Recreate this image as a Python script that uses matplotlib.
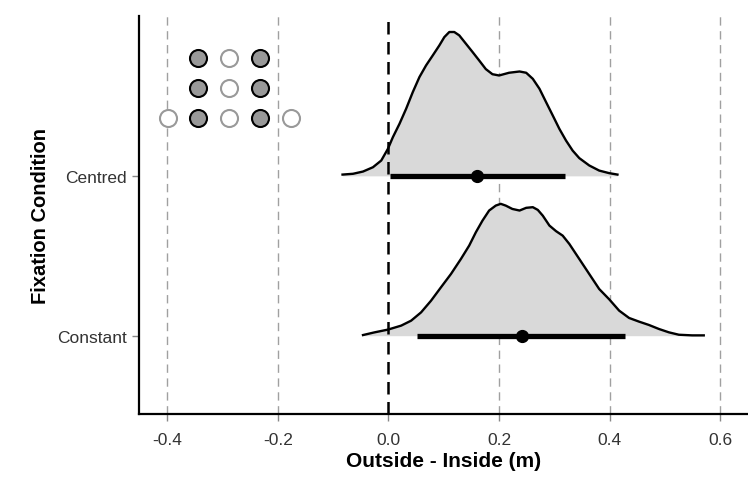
import numpy as np
import matplotlib.pyplot as plt

plt.rcParams['font.family'] = ['Liberation Sans', 'DejaVu Sans']

# Conditions (y positions of the ridges)
conditions = ['Constant', 'Centred']
cond_pos = [1, 2]

# Density outlines (x in m, height in ridge units)
centred_x = [-0.083, -0.064, -0.046, -0.028, -0.013, -0.001, 0.008, 0.020, 0.032, 0.044,
             0.056, 0.068, 0.080, 0.092, 0.101, 0.110, 0.119, 0.128, 0.140, 0.152,
             0.164, 0.176, 0.188, 0.200, 0.218, 0.237, 0.249, 0.261, 0.273, 0.285,
             0.297, 0.309, 0.321, 0.333, 0.345, 0.363, 0.381, 0.399, 0.414]
centred_h = [0.008, 0.013, 0.027, 0.054, 0.096, 0.169, 0.242, 0.326, 0.420, 0.524,
             0.618, 0.691, 0.753, 0.816, 0.868, 0.900, 0.900, 0.879, 0.827, 0.775,
             0.722, 0.668, 0.636, 0.628, 0.645, 0.653, 0.645, 0.607, 0.545, 0.461,
             0.378, 0.294, 0.221, 0.158, 0.111, 0.065, 0.033, 0.017, 0.008]

constant_x = [-0.046, -0.025, -0.001, 0.023, 0.041, 0.059, 0.077, 0.095, 0.113, 0.131,
              0.146, 0.158, 0.170, 0.182, 0.194, 0.203, 0.212, 0.224, 0.237, 0.249,
              0.261, 0.270, 0.279, 0.291, 0.303, 0.315, 0.327, 0.345, 0.363, 0.381,
              0.399, 0.417, 0.435, 0.453, 0.471, 0.489, 0.507, 0.525, 0.549, 0.570]
constant_h = [0.004, 0.021, 0.038, 0.063, 0.094, 0.146, 0.219, 0.303, 0.386, 0.480,
              0.564, 0.647, 0.720, 0.783, 0.814, 0.825, 0.814, 0.793, 0.783, 0.800,
              0.804, 0.787, 0.751, 0.689, 0.654, 0.626, 0.574, 0.480, 0.386, 0.292,
              0.228, 0.157, 0.111, 0.088, 0.067, 0.042, 0.021, 0.006, 0.002, 0.002]

# Point estimates and intervals
centred_est, centred_lo, centred_hi = 0.160, 0.002, 0.320
constant_est, constant_lo, constant_hi = 0.241, 0.051, 0.427

# Fixation dot schematic
filled_x = [-0.344, -0.233, -0.344, -0.233, -0.344, -0.233]
filled_y = [2.736, 2.736, 2.552, 2.552, 2.365, 2.365]
open_x = [-0.288, -0.288, -0.288, -0.399, -0.177]
open_y = [2.736, 2.552, 2.365, 2.365, 2.365]

fig = plt.figure(figsize=(7.48, 4.85), dpi=100)
ax = fig.add_axes([0.1858, 0.1443, 0.8142, 0.8206])

# grid lines
for g in [-0.4, -0.2, 0.2, 0.4, 0.6]:
    ax.axvline(g, color='#a0a0a0', lw=1.0, ls=(0, (6, 4)), zorder=0)

ridges = [(constant_x, constant_h, 1), (centred_x, centred_h, 2)]
for xs, hs, base in ridges:
    ys = base + np.array(hs)
    ax.fill_between(xs, base, ys, color='#d9d9d9', lw=0, zorder=1)
    ax.plot(xs, ys, color='black', lw=1.7, zorder=2, solid_joinstyle='round')

ax.axvline(0, color='black', lw=1.8, ls=(0, (5, 3)), zorder=3)

ax.plot([centred_lo, centred_hi], [2, 2], color='black', lw=3.8, solid_capstyle='butt', zorder=4)
ax.plot(centred_est, 2, 'o', color='black', ms=8.5, zorder=5)
ax.plot([constant_lo, constant_hi], [1, 1], color='black', lw=3.8, solid_capstyle='butt', zorder=4)
ax.plot(constant_est, 1, 'o', color='black', ms=8.5, zorder=5)

ax.scatter(filled_x, filled_y, s=150, facecolor='#999999', edgecolor='black', lw=1.5, zorder=6)
ax.scatter(open_x, open_y, s=150, facecolor='white', edgecolor='#999999', lw=1.5, zorder=6)

ax.set_xlim(-0.451, 0.65)
ax.set_ylim(0.51, 3.0)
ax.set_xticks([-0.4, -0.2, 0.0, 0.2, 0.4, 0.6])
ax.set_xticklabels(['-0.4', '-0.2', '0.0', '0.2', '0.4', '0.6'])
ax.set_yticks(cond_pos)
ax.set_yticklabels(conditions)
ax.tick_params(axis='both', colors='#333333', labelsize=12.5, length=5, width=1.0)
ax.tick_params(axis='both', color='#888888')
ax.tick_params(axis='x', pad=8)

for s in ['top', 'right']:
    ax.spines[s].set_visible(False)
for s in ['left', 'bottom']:
    ax.spines[s].set_linewidth(1.6)

ax.set_xlabel('Outside - Inside (m)', fontsize=15, fontweight='bold', labelpad=3)
ax.set_ylabel('Fixation Condition', fontsize=14.5, fontweight='bold', labelpad=5)

fig.savefig('out.png', dpi=100)
